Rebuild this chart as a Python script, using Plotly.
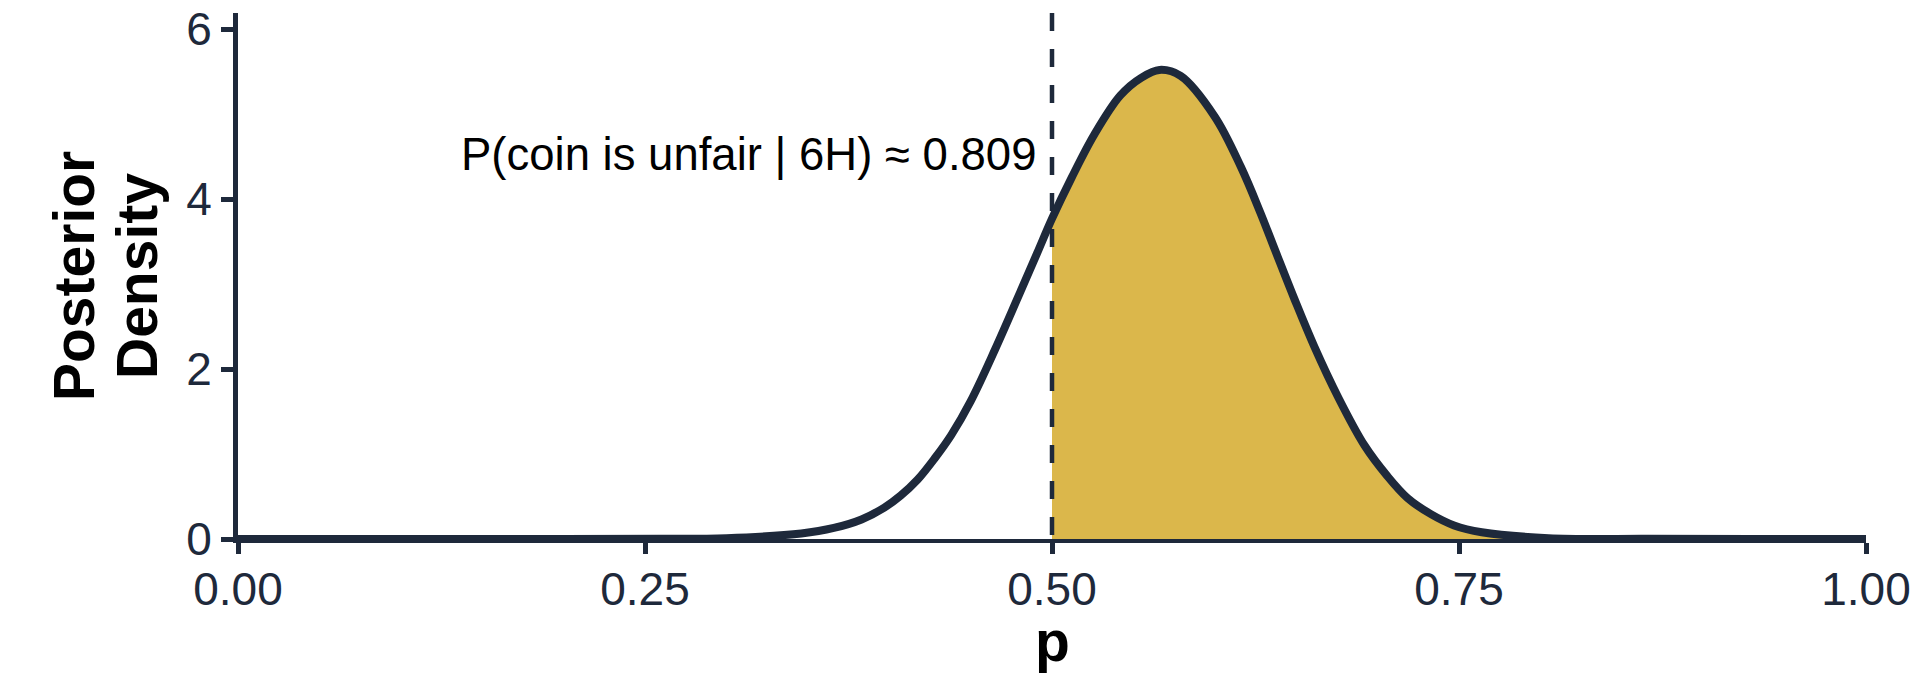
# posterior density of p after 6 heads, with the "unfair" area shaded
import plotly.graph_objects as go

# values
p_values = [0.00, 0.10, 0.20, 0.26, 0.30, 0.346, 0.366, 0.383, 0.397, 0.407,
            0.4175, 0.428, 0.438, 0.450, 0.465, 0.479, 0.491, 0.500, 0.512, 0.526,
            0.542, 0.555, 0.566, 0.579, 0.600, 0.616, 0.628, 0.637, 0.649, 0.661,
            0.676, 0.692, 0.706, 0.7185, 0.733, 0.747, 0.764, 0.805, 0.866, 0.93,
            1.00]
density = [0.0, 0.0, 0.0, 0.002, 0.01, 0.065, 0.13, 0.23, 0.37, 0.51,
           0.70, 0.95, 1.22, 1.62, 2.23, 2.84, 3.37, 3.77, 4.25, 4.76,
           5.22, 5.43, 5.52, 5.45, 4.97, 4.38, 3.84, 3.40, 2.82, 2.27,
           1.66, 1.10, 0.74, 0.48, 0.29, 0.16, 0.08, 0.01, 0.002, 0.0,
           0.0]

threshold = 0.5
prob_unfair = 0.809
x_ticks = [0.0, 0.25, 0.5, 0.75, 1.0]
x_labels = ['0.00', '0.25', '0.50', '0.75', '1.00']
y_ticks = [0, 2, 4, 6]
y_top = 6.19

line_col = '#1e293b'
fill_col = '#dbb74b'
font_name = 'Liberation Sans, Arial, sans-serif'

# shaded part: p above the threshold
shade_x = [x for x in p_values if x >= threshold]
shade_y = [d for x, d in zip(p_values, density) if x >= threshold]

fig = go.Figure()
fig.add_trace(go.Scatter(x=shade_x, y=shade_y, mode='lines', fill='tozeroy',
                         fillcolor=fill_col, line=dict(width=0, shape='spline'),
                         hoverinfo='skip', showlegend=False))
fig.add_trace(go.Scatter(x=[threshold, threshold], y=[y_top, 0], mode='lines',
                         line=dict(color=line_col, width=4.5, dash='18px,18px'),
                         hoverinfo='skip', showlegend=False))
fig.add_trace(go.Scatter(x=p_values, y=density, mode='lines',
                         line=dict(color=line_col, width=8, shape='spline'),
                         showlegend=False))

fig.add_annotation(x=threshold, y=4.52, xref='x', yref='y', xanchor='right',
                   yanchor='middle', xshift=-14, showarrow=False,
                   text='P(coin is unfair | 6H) ≈ %.3f' % prob_unfair,
                   font=dict(family=font_name, size=45.5, color='black'))
fig.add_annotation(x=0, y=0.5, xref='paper', yref='paper', xshift=-164,
                   textangle=-90, showarrow=False, xanchor='center', yanchor='middle',
                   text='<b>Posterior</b>',
                   font=dict(family=font_name, size=57, color='black'))
fig.add_annotation(x=0, y=0.5, xref='paper', yref='paper', xshift=-101,
                   textangle=-90, showarrow=False, xanchor='center', yanchor='middle',
                   text='<b>Density</b>',
                   font=dict(family=font_name, size=57, color='black'))
fig.add_annotation(x=0.5, y=0, xref='paper', yref='paper', yshift=-102,
                   showarrow=False, xanchor='center', yanchor='middle',
                   text='<b>p</b>',
                   font=dict(family=font_name, size=57, color='black'))

# the page body has an 8px margin, so the figure is 16px smaller than the window
fig.update_layout(
    width=1904, height=675,
    margin=dict(l=230, r=46, t=5, b=144),
    plot_bgcolor='white', paper_bgcolor='white',
    font=dict(family=font_name, color=line_col),
    xaxis=dict(range=[0, 1], tickvals=x_ticks, ticktext=x_labels,
               ticks='outside', ticklen=11, tickwidth=5, tickcolor=line_col,
               showline=True, linewidth=4, linecolor=line_col,
               showgrid=False, zeroline=False, ticklabelstandoff=-4,
               ticklabeloverflow='allow', automargin=False,
               tickfont=dict(size=46, color=line_col)),
    yaxis=dict(range=[0, y_top], tickvals=y_ticks,
               ticks='outside', ticklen=12, tickwidth=5, tickcolor=line_col,
               showline=True, linewidth=5, linecolor=line_col,
               showgrid=False, zeroline=False, ticklabeloverflow='allow',
               automargin=False,
               tickfont=dict(size=46, color=line_col)),
)

fig.write_html("out.html")
